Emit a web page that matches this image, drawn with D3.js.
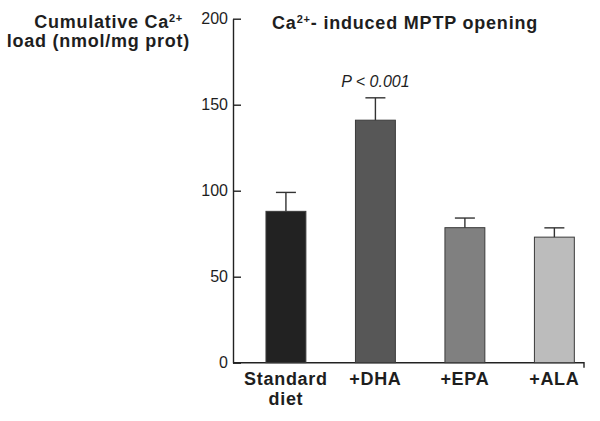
<!DOCTYPE html>
<html>
<head>
<meta charset="utf-8">
<script src="https://cdn.jsdelivr.net/npm/d3@7"></script>
<style>
  html, body { margin: 0; padding: 0; background: #ffffff; }
  svg { display: block; }
  text { font-family: "Liberation Sans", Arial, Helvetica, sans-serif; fill: #1e1e1e; }
</style>
</head>
<body>
<svg id="chart" width="600" height="421"></svg>
<script>
// ---- data ----
const categories = ["Standard diet", "+DHA", "+EPA", "+ALA"];
const categoryLines = [["Standard", "diet"], ["+DHA"], ["+EPA"], ["+ALA"]];
const values = [88, 141, 78.5, 73];
const errors = [11, 13, 5.6, 5.4];
const barColors = ["#222222", "#575757", "#808080", "#bcbcbc"];
const yTicks = [0, 50, 100, 150, 200];
const annotation = "P < 0.001";
const annotatedCategory = "+DHA";

// ---- layout ----
const svg = d3.select("#chart");
const axisX = 233, axisRight = 584;
const y = d3.scaleLinear().domain([0, 200]).range([362.7, 18.7]);
const x = d3.scaleBand().domain(categories).range([243.6, 596.7])
  .paddingInner(0.554).paddingOuter(0.25);

// y axis
const yAxis = d3.axisLeft(y).tickValues(yTicks).tickFormat(d3.format("d"))
  .tickSizeInner(-8).tickSizeOuter(0).tickPadding(5);
const gy = svg.append("g").attr("transform", `translate(${axisX},0)`).call(yAxis);
gy.select(".domain").attr("stroke", "#222").attr("stroke-width", 1.4);
gy.selectAll(".tick line").attr("stroke", "#222").attr("stroke-width", 1.4);
gy.selectAll(".tick text").attr("font-size", 16).attr("fill", "#222")
  .style("font-family", '"Liberation Sans", Arial, sans-serif');

// x axis line with small end tick
svg.append("path")
  .attr("d", `M${axisX},${y(0)}H${axisRight}V${y(0) + 5}`)
  .attr("fill", "none").attr("stroke", "#222").attr("stroke-width", 1.4);

// bars
svg.selectAll("rect.bar").data(categories).enter().append("rect")
  .attr("class", "bar")
  .attr("x", d => x(d))
  .attr("width", x.bandwidth())
  .attr("y", (d, i) => y(values[i]))
  .attr("height", (d, i) => y(0) - y(values[i]))
  .attr("fill", (d, i) => barColors[i])
  .attr("stroke", "#3a3a3a").attr("stroke-width", 1);

// error bars (upper)
const eb = svg.selectAll("g.err").data(categories).enter().append("g").attr("class", "err");
eb.append("line")
  .attr("x1", d => x(d) + x.bandwidth() / 2).attr("x2", d => x(d) + x.bandwidth() / 2)
  .attr("y1", (d, i) => y(values[i])).attr("y2", (d, i) => y(values[i] + errors[i]))
  .attr("stroke", "#333").attr("stroke-width", 1.4);
eb.append("line")
  .attr("x1", d => x(d) + x.bandwidth() / 2 - 10).attr("x2", d => x(d) + x.bandwidth() / 2 + 10)
  .attr("y1", (d, i) => y(values[i] + errors[i])).attr("y2", (d, i) => y(values[i] + errors[i]))
  .attr("stroke", "#333").attr("stroke-width", 1.4);

// category labels
categories.forEach((c, i) => {
  const t = svg.append("text")
    .attr("x", x(c) + x.bandwidth() / 2)
    .attr("y", 385)
    .attr("text-anchor", "middle")
    .attr("font-size", 18).attr("font-weight", "bold")
    .attr("letter-spacing", 0.7);
  categoryLines[i].forEach((ln, j) => {
    t.append("tspan").attr("x", x(c) + x.bandwidth() / 2).attr("dy", j === 0 ? 0 : 19.5).text(ln);
  });
});

// annotation
const ai = categories.indexOf(annotatedCategory);
svg.append("text")
  .attr("x", x(annotatedCategory) + x.bandwidth() / 2)
  .attr("y", 87)
  .attr("text-anchor", "middle")
  .attr("font-size", 16).attr("font-style", "italic")
  .text(annotation);

// title
const title = svg.append("text").attr("x", 272).attr("y", 29)
  .attr("font-size", 18).attr("font-weight", "bold").attr("letter-spacing", 0.8);
title.append("tspan").text("Ca");
title.append("tspan").attr("font-size", 11).attr("dy", -6).text("2+");
title.append("tspan").attr("dy", 6).text("- induced MPTP opening");

// y label
const yl1 = svg.append("text").attr("x", 183).attr("y", 28).attr("text-anchor", "end")
  .attr("font-size", 18).attr("font-weight", "bold").attr("letter-spacing", 0.75);
yl1.append("tspan").text("Cumulative Ca");
yl1.append("tspan").attr("font-size", 11).attr("dy", -6).text("2+");
svg.append("text").attr("x", 190).attr("y", 47).attr("text-anchor", "end")
  .attr("font-size", 18).attr("font-weight", "bold").attr("letter-spacing", 0.75)
  .text("load (nmol/mg prot)");
</script>
</body>
</html>
